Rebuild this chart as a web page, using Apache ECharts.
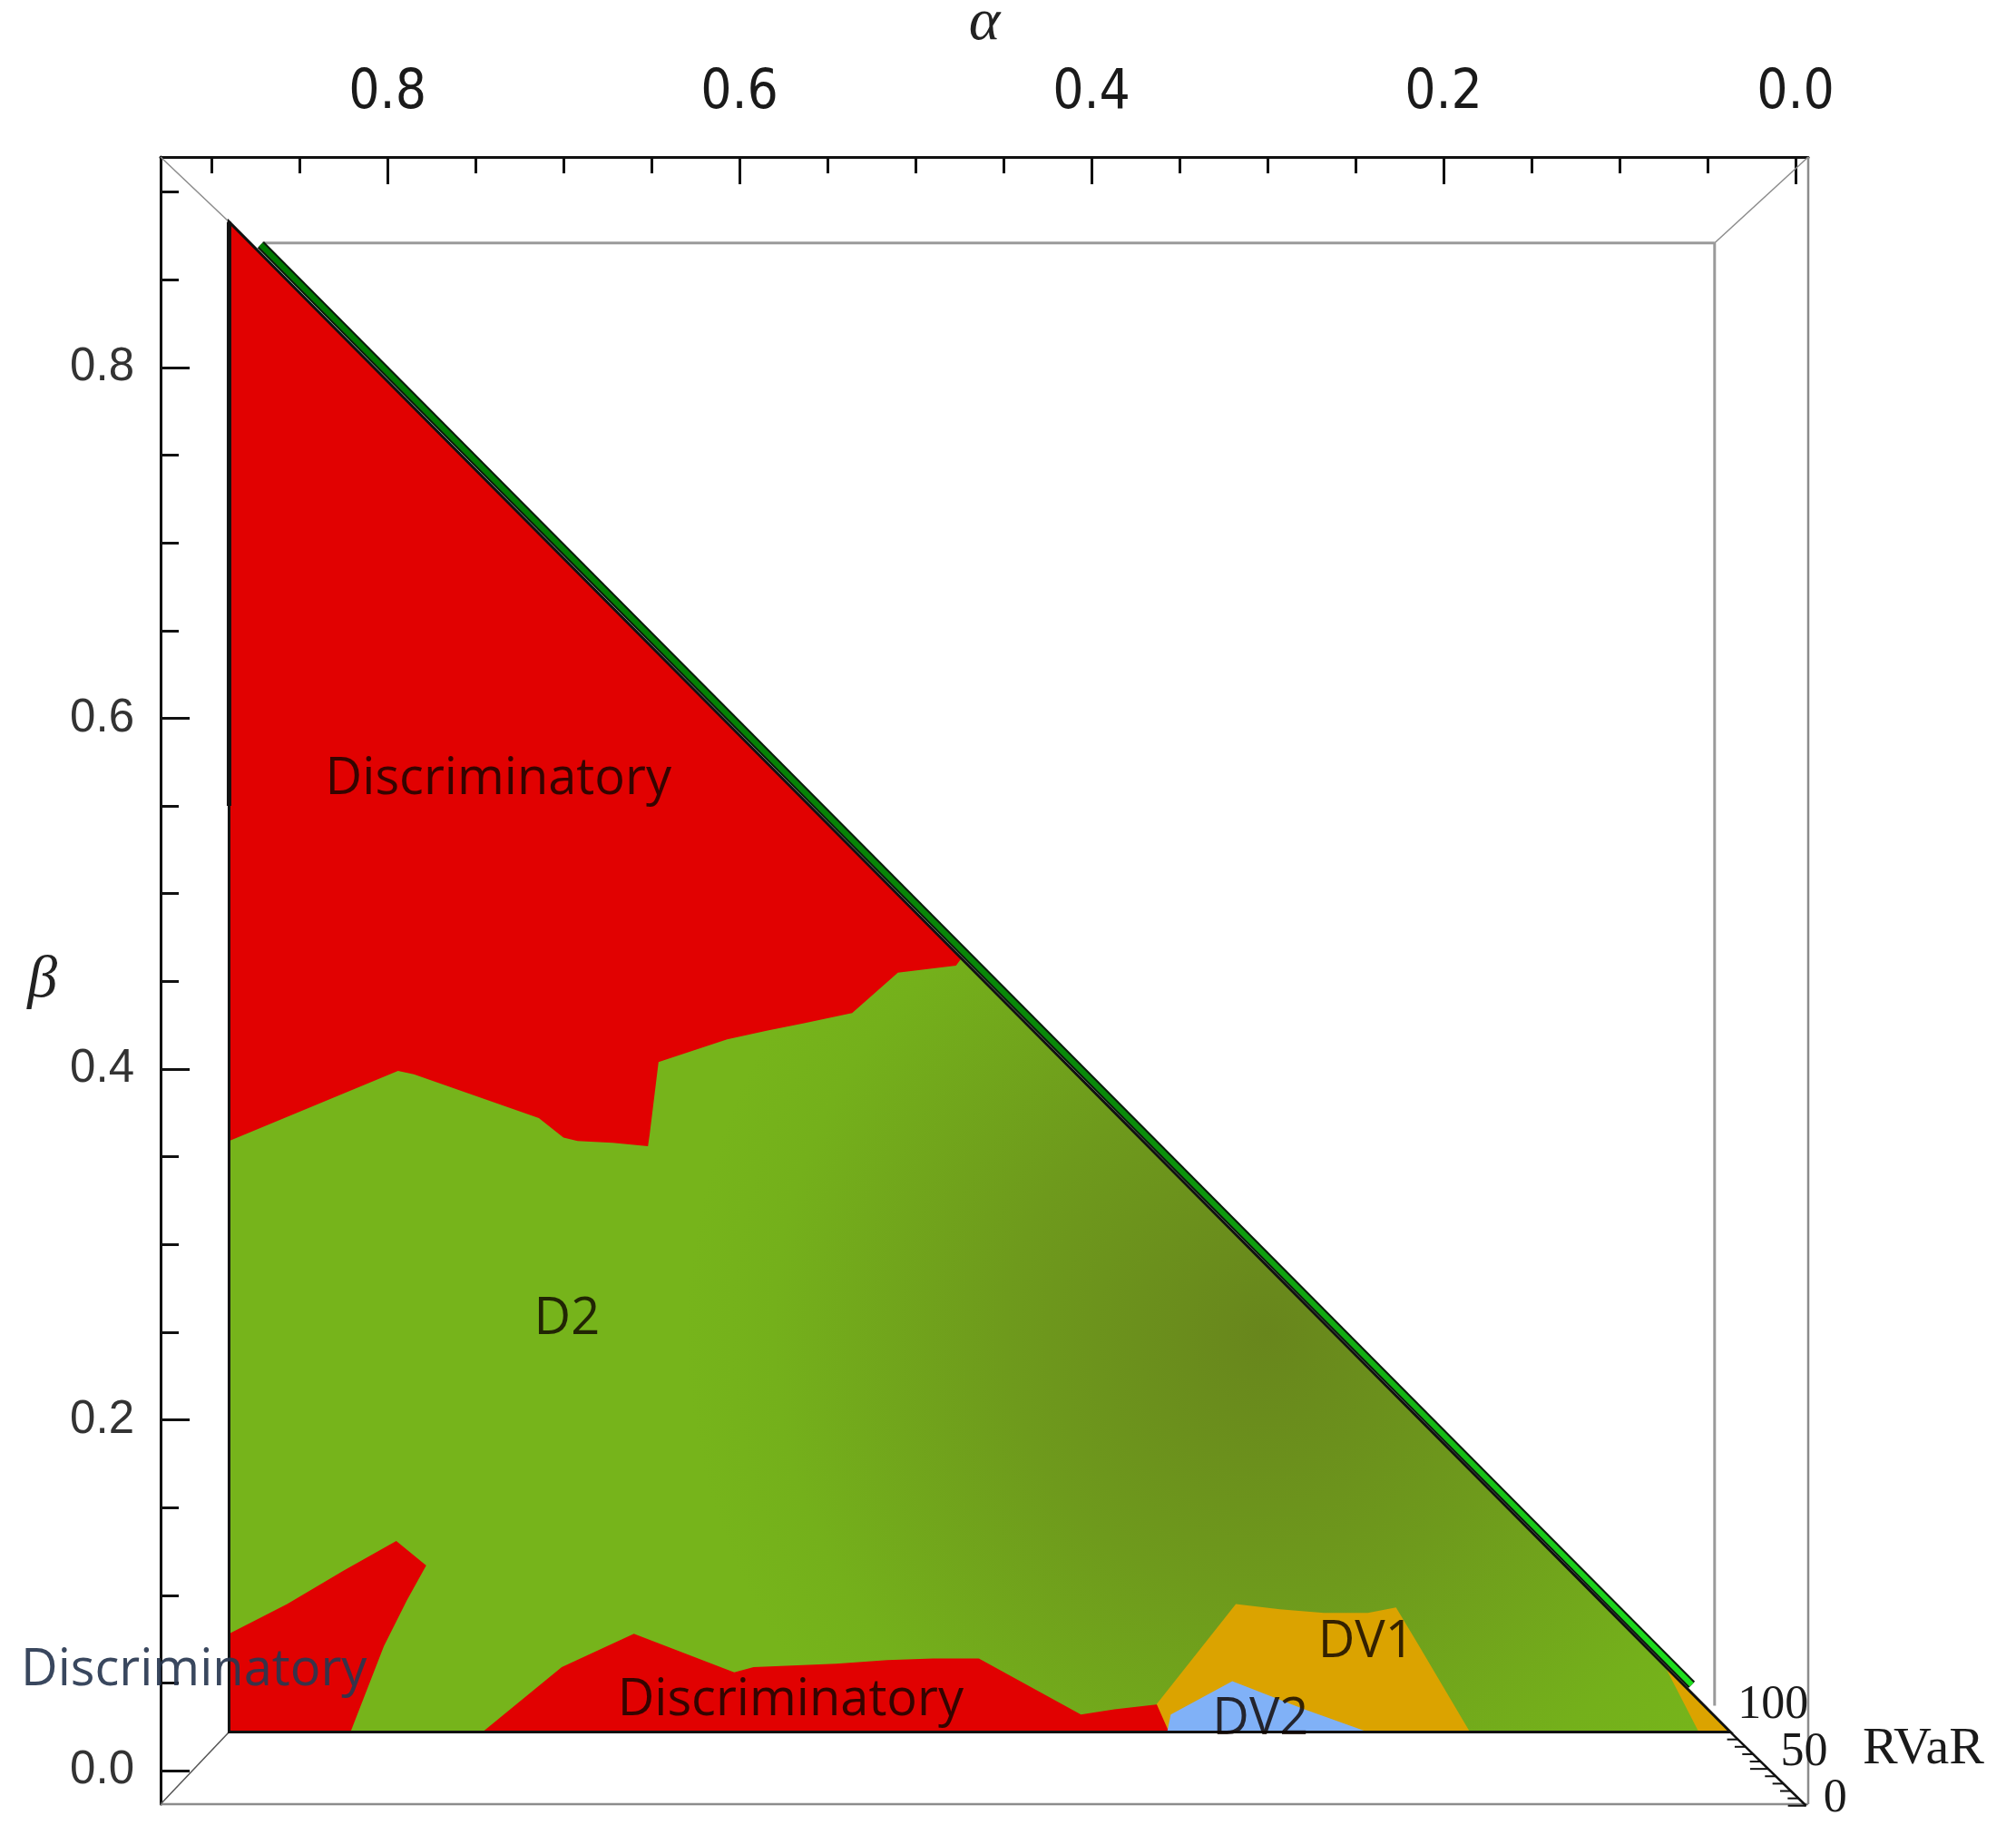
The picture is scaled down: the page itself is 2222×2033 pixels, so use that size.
<!DOCTYPE html>
<html>
<head>
<meta charset="utf-8">
<script src="https://cdn.jsdelivr.net/npm/echarts@6/dist/echarts.min.js"></script>
<style>
  html, body { margin: 0; padding: 0; background: #fff; }
  #chart { width: 2222px; height: 2033px; }
</style>
</head>
<body>
<div id="chart"></div>
<script>
// axis ranges (alpha runs right-to-left, beta bottom-to-top)
const alphaMin = -0.0072, alphaMax = 0.9289;
const betaMin = -0.0191, betaMax = 0.92;

// tick labels
const alphaMajor = [0, 0.2, 0.4, 0.6, 0.8];
const alphaMinor = [0.05, 0.1, 0.15, 0.25, 0.3, 0.35, 0.45, 0.5, 0.55, 0.65, 0.7, 0.75, 0.85, 0.9];
const betaMajor = [0, 0.2, 0.4, 0.6, 0.8];
const betaMinor = [0.05, 0.1, 0.15, 0.25, 0.3, 0.35, 0.45, 0.5, 0.55, 0.65, 0.7, 0.75, 0.85, 0.9];
const rvarTicks = [0, 10, 20, 30, 40, 50, 60, 70, 80, 90, 100];
const rvarLabels = [0, 50, 100];

// regions, [alpha, beta]
const plotTriangle = [[0.890, 0.883], [0.890, 0.022], [0.037, 0.022]];
const redUpper = [
  [0.890, 0.883], [0.474, 0.463], [0.477, 0.459], [0.510, 0.455], [0.536, 0.432],
  [0.564, 0.426], [0.584, 0.422], [0.607, 0.417], [0.646, 0.404], [0.651, 0.363],
  [0.652, 0.356], [0.672, 0.358], [0.692, 0.359], [0.700, 0.361], [0.714, 0.372],
  [0.785, 0.397], [0.794, 0.399], [0.890, 0.359]
];
const redLowerLeft = [
  [0.890, 0.078], [0.857, 0.095], [0.825, 0.114], [0.795, 0.131], [0.778, 0.117],
  [0.789, 0.097], [0.802, 0.071], [0.821, 0.022], [0.890, 0.022]
];
const redLowerMid = [
  [0.746, 0.022], [0.701, 0.059], [0.660, 0.078], [0.603, 0.056], [0.592, 0.059],
  [0.545, 0.061], [0.516, 0.063], [0.490, 0.064], [0.464, 0.064], [0.406, 0.032],
  [0.387, 0.035], [0.361, 0.038], [0.355, 0.032], [0.356, 0.022]
];
const dv1Region = [
  [0.363, 0.038], [0.318, 0.095], [0.293, 0.092], [0.268, 0.090], [0.243, 0.090],
  [0.227, 0.093], [0.215, 0.073], [0.185, 0.022], [0.356, 0.022]
];
const dv1Tip = [[0.075, 0.061], [0.055, 0.022], [0.037, 0.022]];
const dv2Region = [[0.357, 0.022], [0.355, 0.032], [0.320, 0.051], [0.279, 0.035], [0.243, 0.022]];
const frontier = [[0.872, 0.870], [0.059, 0.049]];

const regionLabels = [
  { text: 'Discriminatory', at: [0.737, 0.565] },
  { text: 'D2', at: [0.698, 0.257] },
  { text: 'Discriminatory', at: [0.910, 0.057], outside: true },
  { text: 'Discriminatory', at: [0.571, 0.040] },
  { text: 'DV1', at: [0.244, 0.073] },
  { text: 'DV2', at: [0.304, 0.029] }
];

// 3D box edges (back face corners)
const innerTop = 0.871, innerRight = 0.046, innerRightEnd = 0.037, innerTopStart = 0.871;
const rvarCorner = [-0.006, -0.020];

const chart = echarts.init(document.getElementById('chart'));

function poly(api, pts, style) {
  return { type: 'polygon', shape: { points: pts.map(p => api.coord(p)) }, style: style };
}
function seg(api, p, q, stroke, width) {
  const a = api.coord(p), b = api.coord(q);
  return { type: 'line', shape: { x1: a[0], y1: a[1], x2: b[0], y2: b[1] }, style: { stroke: stroke, lineWidth: width } };
}

const regionFont = "'Open Sans', 'DejaVu Sans', sans-serif";

function renderRegions(params, api) {
  const c = api.coord([0.30, 0.25]);
  const green = new echarts.graphic.RadialGradient(c[0], c[1], 640, [
    { offset: 0, color: '#68861c' },
    { offset: 0.45, color: '#6e9a1c' },
    { offset: 0.85, color: '#74b01b' },
    { offset: 1, color: '#76b41b' }
  ], true);
  const f0 = api.coord(frontier[0]), f1 = api.coord(frontier[1]);
  const stripGrad = new echarts.graphic.LinearGradient(f0[0], f0[1], f1[0], f1[1], [
    { offset: 0, color: '#007a00' },
    { offset: 0.6, color: '#0a8a0a' },
    { offset: 1, color: '#1ee01e' }
  ], true);
  const children = [
    poly(api, plotTriangle, { fill: green }),
    poly(api, redUpper, { fill: '#e10101' }),
    poly(api, redLowerLeft, { fill: '#e10101' }),
    poly(api, redLowerMid, { fill: '#e10101' }),
    poly(api, dv1Region, { fill: '#dba300' }),
    poly(api, dv1Tip, { fill: '#dba300' }),
    poly(api, dv2Region, { fill: '#80b1f7' }),
    poly(api, plotTriangle, { fill: 'none', stroke: '#111', lineWidth: 3 }),
    seg(api, plotTriangle[0], [0.890, 0.550], '#111', 5),
    seg(api, frontier[0], frontier[1], '#0b1a0b', 10),
    seg(api, frontier[0], frontier[1], stripGrad, 6)
  ];
  regionLabels.forEach(function (l) {
    const p = api.coord(l.at);
    children.push({
      type: 'text', x: p[0], y: p[1],
      style: {
        text: l.text, fontFamily: regionFont, fontSize: 56,
        fill: l.outside ? 'rgba(40,55,80,0.92)' : 'rgba(15,5,0,0.82)',
        align: 'center', verticalAlign: 'middle'
      }
    });
  });
  return { type: 'group', children: children };
}

function renderFrame(params, api) {
  const gray = '#8c8c8c';
  const children = [
    seg(api, [alphaMin, betaMax], [alphaMin, betaMin], gray, 2.5),
    seg(api, [alphaMax, betaMin], [alphaMin, betaMin], gray, 2.5),
    seg(api, [innerTopStart, innerTop], [innerRight, innerTop], '#9a9a9a', 3),
    seg(api, [innerRight, innerTop], [innerRight, innerRightEnd], '#9a9a9a', 3),
    seg(api, [alphaMax, betaMax], plotTriangle[0], gray, 1.5),
    seg(api, [alphaMin, betaMax], [innerRight, innerTop], gray, 1.5),
    seg(api, [alphaMax, betaMin], plotTriangle[1], '#555', 1.5),
    seg(api, plotTriangle[2], rvarCorner, '#111', 2.5)
  ];
  const inner = api.coord(plotTriangle[2]), outer = api.coord(rvarCorner);
  rvarTicks.forEach(function (v) {
    const t = v / 100;
    const x = outer[0] + t * (inner[0] - outer[0]);
    const y = outer[1] + t * (inner[1] - outer[1]);
    const len = rvarLabels.indexOf(v) >= 0 ? 20 : 12;
    children.push({ type: 'line', shape: { x1: x - len, y1: y, x2: x, y2: y }, style: { stroke: '#111', lineWidth: 2 } });
    if (rvarLabels.indexOf(v) >= 0) {
      children.push({
        type: 'text', x: x + 8 + (1 - t) * 11, y: y - 29 + (1 - t) * 22,
        style: { text: String(v), fontFamily: "'Liberation Serif', serif", fontSize: 52, fill: '#1a1a1a', align: 'left', verticalAlign: 'middle' }
      });
    }
  });
  const mid = [(inner[0] + outer[0]) / 2, (inner[1] + outer[1]) / 2];
  children.push({
    type: 'text', x: mid[0] + 104, y: mid[1] - 21,
    style: { text: 'RVaR', fontFamily: "'Liberation Serif', serif", fontSize: 58, fill: '#1a1a1a', align: 'left', verticalAlign: 'middle' }
  });
  return { type: 'group', children: children };
}

const topFont = "'Liberation Sans Narrow', 'DejaVu Sans Condensed', sans-serif";
const leftFont = "'Liberation Sans', Arial, sans-serif";

const options = {
  animation: false,
  backgroundColor: '#fff',
  grid: { left: 177, top: 173, width: 1816, height: 1815, containLabel: false, outerBoundsMode: 'none' },
  xAxis: [
    {
      type: 'value', position: 'top', inverse: true, min: alphaMin, max: alphaMax,
      axisLine: { show: true, onZero: false, lineStyle: { color: '#111', width: 3 } },
      axisTick: { show: true, inside: true, length: 30, customValues: alphaMajor, lineStyle: { color: '#111', width: 3 } },
      axisLabel: {
        show: true, customValues: alphaMajor, margin: 40,
        formatter: function (v) { return v.toFixed(1); },
        fontSize: 60, fontFamily: topFont, color: '#1a1a1a'
      },
      splitLine: { show: false },
      name: 'α', nameLocation: 'middle', nameGap: 114,
      nameTextStyle: { fontFamily: "'Liberation Serif', serif", fontStyle: 'italic', fontSize: 66, color: '#222' }
    },
    {
      type: 'value', position: 'top', inverse: true, min: alphaMin, max: alphaMax,
      axisLine: { show: false, onZero: false },
      axisTick: { show: true, inside: true, length: 18, customValues: alphaMinor, lineStyle: { color: '#111', width: 3 } },
      axisLabel: { show: false },
      splitLine: { show: false }
    }
  ],
  yAxis: [
    {
      type: 'value', position: 'left', min: betaMin, max: betaMax,
      axisLine: { show: true, onZero: false, lineStyle: { color: '#111', width: 3 } },
      axisTick: { show: true, inside: true, length: 32, customValues: betaMajor, lineStyle: { color: '#111', width: 3 } },
      axisLabel: {
        show: true, customValues: betaMajor, margin: 29,
        formatter: function (v) { return v.toFixed(1); },
        fontSize: 51, fontFamily: leftFont, color: '#333'
      },
      splitLine: { show: false },
      name: 'β', nameLocation: 'middle', nameGap: 114, nameRotate: 0,
      nameTextStyle: { fontFamily: "'Liberation Serif', serif", fontStyle: 'italic', fontSize: 66, color: '#222' }
    },
    {
      type: 'value', position: 'left', min: betaMin, max: betaMax,
      axisLine: { show: false, onZero: false },
      axisTick: { show: true, inside: true, length: 20, customValues: betaMinor, lineStyle: { color: '#111', width: 3 } },
      axisLabel: { show: false },
      splitLine: { show: false }
    }
  ],
  series: [
    { type: 'custom', name: 'frame', xAxisIndex: 0, yAxisIndex: 0, silent: true, clip: false, data: [[0, 0]], renderItem: renderFrame, z: 1 },
    { type: 'custom', name: 'regions', xAxisIndex: 0, yAxisIndex: 0, silent: true, clip: false, data: [[0, 0]], renderItem: renderRegions, z: 2 }
  ]
};

chart.setOption(options);
</script>
</body>
</html>
